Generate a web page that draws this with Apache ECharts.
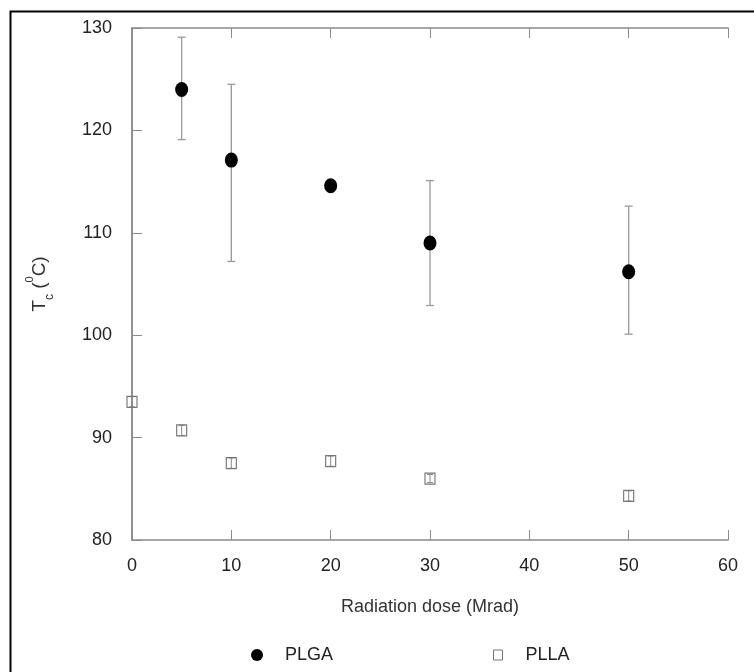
<!DOCTYPE html>
<html><head><meta charset="utf-8">
<script src="https://cdn.jsdelivr.net/npm/echarts@6/dist/echarts.min.js"></script>
<style>html,body{margin:0;padding:0;background:#fff}#c{width:754px;height:672px}</style>
</head><body><div id="c"></div>
<script>
// Data
const doseTicks = [0, 10, 20, 30, 40, 50, 60];
const plgaDose = [5, 10, 20, 30, 50];
const plgaTc = [124.0, 117.1, 114.6, 109.0, 106.2];
const plgaLow = [119.1, 107.2, 114.3, 102.9, 100.1];
const plgaHigh = [129.1, 124.5, 114.9, 115.1, 112.6];
const pllaDose = [0, 5, 10, 20, 30, 50];
const pllaTc = [93.5, 90.7, 87.5, 87.7, 86.0, 84.3];
const pllaLow = [93.0, 90.2, 87.0, 87.2, 85.6, 83.8];
const pllaHigh = [94.0, 91.2, 88.0, 88.2, 86.4, 84.8];

const plgaPts = plgaDose.map((d, i) => [d, plgaTc[i]]);
const plgaErr = plgaDose.map((d, i) => [d, plgaLow[i], plgaHigh[i]]);
const pllaPts = pllaDose.map((d, i) => [d, pllaTc[i]]);
const pllaErr = pllaDose.map((d, i) => [d, pllaLow[i], pllaHigh[i]]);

function errItem(capW, color, lw) {
  return function (params, api) {
    const x = api.value(0);
    const lo = api.coord([x, api.value(1)]);
    const hi = api.coord([x, api.value(2)]);
    const st = { stroke: color, lineWidth: lw };
    return {
      type: 'group',
      children: [
        { type: 'line', shape: { x1: lo[0], y1: lo[1], x2: hi[0], y2: hi[1] }, style: st },
        { type: 'line', shape: { x1: lo[0] - capW, y1: lo[1], x2: lo[0] + capW, y2: lo[1] }, style: st },
        { type: 'line', shape: { x1: hi[0] - capW, y1: hi[1], x2: hi[0] + capW, y2: hi[1] }, style: st }
      ]
    };
  };
}

const font = 'Liberation Sans, Arial, sans-serif';
const axisLine = { show: true, lineStyle: { color: '#8a8a8a', width: 1.5 } };
const tick = { show: true, inside: true, length: 10, lineStyle: { color: '#8a8a8a', width: 1 } };
const chart = echarts.init(document.getElementById('c'), null, { renderer: 'canvas' });
chart.setOption({
  animation: false,
  backgroundColor: '#fff',
  grid: { left: 132, top: 28, width: 596, height: 512 },
  xAxis: [
    {
      type: 'value', min: 0, max: 60, interval: 10, position: 'bottom',
      axisLine, splitLine: { show: false }, axisTick: tick,
      axisLabel: { color: '#222', fontSize: 18, fontFamily: font, margin: 17,
        formatter: v => doseTicks.includes(v) ? String(v) : '' },
      name: 'Radiation dose (Mrad)', nameLocation: 'middle', nameGap: 58,
      nameTextStyle: { color: '#333', fontSize: 18, fontFamily: font }
    },
    {
      type: 'value', min: 0, max: 60, interval: 10, position: 'top',
      axisLine, splitLine: { show: false }, axisTick: tick, axisLabel: { show: false }
    }
  ],
  yAxis: [
    {
      type: 'value', min: 80, max: 130, interval: 10, position: 'left',
      axisLine, splitLine: { show: false }, axisTick: tick,
      axisLabel: { color: '#222', fontSize: 18, fontFamily: font, margin: 20 },
      name: 'T{sub|c} ({sup|0}C)', nameLocation: 'middle', nameGap: 76, nameRotate: 90,
      nameTextStyle: {
        color: '#333', fontSize: 19, fontFamily: font, lineHeight: 32,
        rich: {
          sub: { fontSize: 12, fontFamily: font, color: '#333', verticalAlign: 'bottom', lineHeight: 32 },
          sup: { fontSize: 11, fontFamily: font, color: '#333', verticalAlign: 'top', lineHeight: 32 }
        }
      }
    },
    {
      type: 'value', min: 80, max: 130, interval: 10, position: 'right',
      axisLine, splitLine: { show: false }, axisTick: { show: false }, axisLabel: { show: false }
    }
  ],
  legend: [
    {
      left: 246, top: 641, itemWidth: 12, itemHeight: 14,
      textStyle: { color: '#222', fontSize: 18, fontFamily: font, padding: [0, 0, 0, 17] },
      data: [{ name: 'PLGA', icon: 'circle', itemStyle: { color: '#000' } }]
    },
    {
      left: 488, top: 641, itemWidth: 9, itemHeight: 10,
      textStyle: { color: '#222', fontSize: 18, fontFamily: font, padding: [0, 0, 0, 18] },
      data: [{ name: 'PLLA', icon: 'rect', itemStyle: { color: '#fff', borderColor: '#777', borderWidth: 1 } }]
    }
  ],
  graphic: [
    { type: 'rect', left: 8, top: 9, shape: { x: 0, y: 0, width: 800, height: 720 },
      style: { fill: 'none', stroke: '#000', lineWidth: 2 }, silent: true, z: 100 }
  ],
  series: [
    { type: 'custom', name: 'PLGAerr', renderItem: errItem(4, '#9a9a9a', 1.3), data: plgaErr, z: 1,
      encode: { x: 0, y: [1, 2] } },
    { type: 'scatter', name: 'PLGA', data: plgaPts, symbol: 'circle', symbolSize: [13, 15],
      itemStyle: { color: '#000', opacity: 1 }, z: 3 },
    { type: 'custom', name: 'PLLAerr', renderItem: errItem(3, '#888', 1), data: pllaErr, z: 4,
      encode: { x: 0, y: [1, 2] } },
    { type: 'scatter', name: 'PLLA', data: pllaPts, symbol: 'rect', symbolSize: [10, 11],
      itemStyle: { color: 'rgba(255,255,255,0)', borderColor: '#777', borderWidth: 1.2, opacity: 1 }, z: 5 }
  ]
});
</script></body></html>
